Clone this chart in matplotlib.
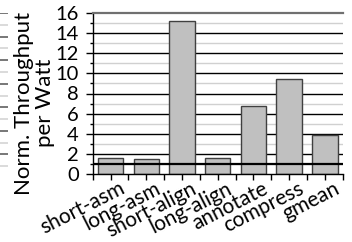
import numpy as np
import matplotlib
matplotlib.use('Agg')
import matplotlib.pyplot as plt
from matplotlib.ticker import MultipleLocator
import matplotlib.transforms as mtransforms

plt.rcParams['font.family'] = ['Lato', 'DejaVu Sans']

# data
categories = ['short-asm', 'long-asm', 'short-align', 'long-align',
              'annotate', 'compress', 'gmean']
throughput_per_watt = [1.58, 1.48, 15.2, 1.64, 6.73, 9.4, 3.92]
yticks = [0, 2, 4, 6, 8, 10, 12, 14, 16]

# neighbouring chart, only its right edge is visible
frag_level = [4.7]

W, H = 352, 242
fig = plt.figure(figsize=(W / 100, H / 100), dpi=100)

### fragment of the chart on the left
axf = fig.add_axes([-40 / W, 1 - 178 / H, 48 / W, 165 / H])
axf.set_xlim(-1, 1)
axf.set_ylim(0, 14)
for yv in range(1, 15):
    c = '#606060' if yv % 2 == 0 else '#d4d4d4'
    axf.axhline(yv, color=c, lw=1.2, zorder=1)
axf.bar([-0.5], frag_level, width=1.3, color='#c0c0c0', edgecolor='#404040',
        lw=1, zorder=2)
axf.axis('off')

### main chart
ax = fig.add_axes([92.7 / W, 1 - 174.3 / H, 250 / W, 161.6 / H])
x = np.arange(len(categories))
ax.set_xlim(-0.5, len(categories) - 0.5)
ax.set_ylim(0, 16)

for yv in range(1, 16, 2):
    ax.axhline(yv, color='#d0d0d0', lw=1, zorder=1)
for yv in yticks[1:-1]:
    ax.axhline(yv, color='black', lw=1, zorder=1)

ax.bar(x, throughput_per_watt, width=0.71, color='#c0c0c0',
       edgecolor='#404040', lw=1, zorder=2)
ax.axhline(1, color='black', lw=1.6, zorder=3)

ax.spines['right'].set_visible(False)
ax.spines['top'].set_color('#707070')
ax.spines['top'].set_linewidth(1.6)
ax.spines['left'].set_linewidth(1)
ax.spines['bottom'].set_linewidth(1)

ax.set_yticks(yticks)
ax.yaxis.set_minor_locator(MultipleLocator(1))
ax.tick_params(axis='y', which='major', direction='out', length=5.4,
               width=1, labelsize=14.5, pad=4.5)
ax.tick_params(axis='y', which='minor', direction='out', length=2.5, width=1)

# category ticks at centres and boundaries, labels placed by hand
ax.set_xticks(x)
ax.set_xticks(np.arange(-0.5, len(categories)), minor=True)
ax.tick_params(axis='x', which='both', direction='out', length=4, width=1,
               labelbottom=False)
shift = mtransforms.ScaledTranslation(13 / 100, -13 / 100, fig.dpi_scale_trans)
for xi, name in zip(x, categories):
    ax.text(xi, 0, name, transform=ax.get_xaxis_transform() + shift,
            rotation=27, ha='right', va='center', rotation_mode='anchor',
            fontsize=15)

ax.set_ylabel('Norm. Throughput\nper Watt', fontsize=16, linespacing=1.05)
ax.yaxis.set_label_coords(-0.15, 0.44)

fig.savefig('out.png', dpi=100)
